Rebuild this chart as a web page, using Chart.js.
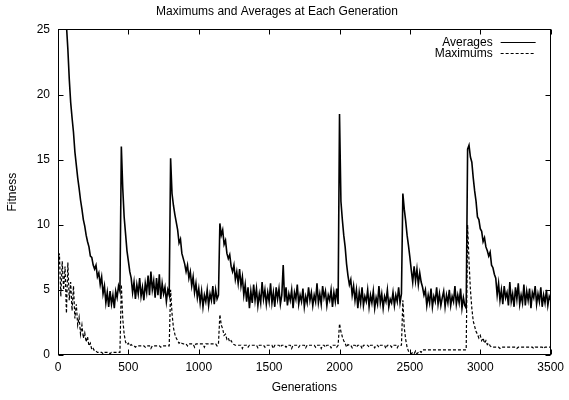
<!DOCTYPE html>
<html>
<head>
  <title>Maximums and Averages at Each Generation</title>
  <style>
    body { margin: 0; background: #fff; }
  </style>
</head>
<body>
<div>
  <canvas id="myChart" width="569" height="400"></canvas>
</div>
<script src="https://cdn.jsdelivr.net/npm/chart.js@4/dist/chart.umd.min.js"></script>

<script>
  // one sample every 10 generations
  const step = 10;

  const averages = [
    38, 35, 32, 30, 28, 26.5, 25.3, 23.5, 21.2, 19.4,
    18.2, 17.1, 15.6, 14.6, 13.6, 12.8, 11.9, 11.2, 10.4, 9.9,
    9.2, 8.7, 8.3, 7.6, 7.5, 6.9, 6.6, 6.9, 6.0, 6.3,
    5.4, 6.0, 4.7, 5.3, 4.0, 4.8, 3.7, 4.9, 3.9, 4.6,
    3.6, 4.9, 4.4, 5.3, 4.9, 16.0, 12.8, 10.6, 9.3, 8.0,
    7.2, 6.4, 5.9, 4.8, 5.6, 4.3, 5.4, 4.7, 5.9, 4.5,
    5.2, 4.2, 5.5, 4.8, 6.1, 4.6, 6.4, 5.0, 5.7, 4.4,
    5.9, 4.6, 6.2, 4.3, 5.5, 4.7, 5.2, 4.1, 5.0, 4.6,
    15.1, 12.4, 11.5, 10.8, 10.2, 9.6, 8.6, 8.9, 7.8, 7.4,
    7.0, 6.4, 6.9, 5.9, 6.4, 5.3, 6.0, 4.8, 5.5, 4.4,
    5.1, 4.0, 4.9, 3.7, 4.6, 4.1, 5.0, 3.8, 4.7, 4.2,
    5.3, 3.9, 5.0, 4.3, 4.6, 10.1, 9.2, 9.6, 8.5, 8.8,
    7.8, 7.4, 7.7, 6.8, 6.4, 6.9, 5.8, 6.4, 5.5, 6.6,
    5.3, 6.0, 4.6, 5.4, 4.1, 5.2, 3.6, 4.9, 4.0, 5.4,
    4.2, 5.1, 3.8, 4.7, 4.0, 5.6, 4.3, 5.0, 3.9, 4.8,
    4.1, 5.5, 4.0, 4.8, 3.7, 5.2, 4.3, 5.1, 3.9, 4.6,
    6.9, 4.1, 5.2, 3.8, 4.7, 4.2, 5.0, 3.6, 4.8, 4.3,
    5.4, 3.9, 4.6, 4.1, 5.1, 3.7, 4.5, 4.0, 5.2, 4.2,
    4.8, 3.8, 4.6, 4.1, 5.5, 4.0, 4.7, 3.9, 5.3, 4.4,
    4.9, 3.8, 4.6, 4.2, 5.0, 3.7, 4.8, 4.1, 5.1, 3.9,
    18.5, 11.8, 10.4, 9.2, 8.3, 7.0, 6.1, 5.4, 5.8, 4.6,
    5.3, 4.2, 5.0, 3.6, 4.8, 4.0, 5.2, 3.8, 4.5, 4.1,
    5.0, 3.7, 4.6, 4.0, 4.9, 3.6, 4.4, 3.9, 5.3, 4.0,
    4.7, 3.6, 4.5, 4.1, 5.0, 3.7, 4.3, 4.0, 4.8, 3.8,
    4.6, 4.1, 5.2, 4.0, 4.7, 12.4, 11.2, 10.3, 9.2, 8.4,
    7.5, 6.5, 5.6, 6.8, 5.7, 6.6, 5.4, 6.3, 5.6, 5.2,
    4.6, 5.0, 3.8, 4.6, 4.0, 5.1, 3.7, 4.5, 4.1, 5.2,
    3.9, 4.7, 3.8, 4.4, 4.9, 3.7, 4.6, 4.0, 5.0, 3.8,
    4.5, 4.1, 5.3, 3.9, 4.6, 4.0, 5.1, 3.6, 4.4, 3.8,
    3.6, 15.8, 16.1, 15.2, 14.8, 13.6, 12.6, 11.8, 10.6, 10.4,
    9.7, 9.5, 8.7, 9.0, 8.3, 8.0, 7.6, 7.9, 6.9, 6.7,
    6.2, 5.9, 4.6, 5.5, 4.2, 5.0, 3.9, 5.3, 4.4, 4.8,
    3.8, 5.6, 4.1, 4.7, 3.7, 5.2, 4.3, 5.5, 3.9, 4.6,
    4.0, 5.4, 3.8, 4.9, 4.2, 5.1, 3.6, 4.8, 4.4, 5.3,
    3.9, 4.7, 4.1, 5.2, 3.7, 4.6, 4.0, 5.0, 3.8, 4.5,
    4.2
  ];

  const maximums = [
    6.5, 7.8, 4.5, 7.2, 5.0, 6.8, 3.2, 7.1, 4.2, 5.6,
    3.4, 5.3, 2.8, 3.9, 2.3, 2.9, 1.6, 2.3, 1.3, 1.7,
    1.0, 1.4, 0.7, 0.9, 0.4, 0.5, 0.3, 0.3, 0.2, 0.2,
    0.2, 0.2, 0.1, 0.2, 0.2, 0.2, 0.2, 0.1, 0.2, 0.2,
    0.2, 0.2, 0.2, 0.2, 0.2, 5.4, 2.8, 1.6, 1.0, 0.8,
    0.9, 0.7, 0.8, 0.7, 0.7, 0.6, 0.7, 0.7, 0.7, 0.7,
    0.7, 0.7, 0.6, 0.7, 0.7, 0.7, 0.5, 0.7, 0.7, 0.7,
    0.7, 0.7, 0.7, 0.6, 0.7, 0.7, 0.7, 0.7, 0.7, 0.7,
    5.0, 3.2, 2.1, 1.6, 1.3, 1.1, 0.9, 1.0, 0.9, 0.85,
    0.85, 0.85, 0.7, 0.85, 0.85, 0.85, 0.85, 0.6, 0.85, 0.85,
    0.85, 0.85, 0.85, 0.85, 0.6, 0.85, 0.85, 0.85, 0.85, 0.85,
    0.85, 0.85, 0.85, 0.7, 0.85, 3.1, 2.3, 2.0, 1.5, 1.6,
    1.2, 1.3, 1.0, 1.1, 0.9, 0.8, 0.75, 0.75, 0.75, 0.75,
    0.75, 0.5, 0.75, 0.75, 0.75, 0.6, 0.75, 0.75, 0.75, 0.75,
    0.75, 0.75, 0.55, 0.75, 0.75, 0.75, 0.75, 0.6, 0.75, 0.75,
    0.75, 0.75, 0.75, 0.5, 0.75, 0.75, 0.75, 0.75, 0.6, 0.75,
    0.75, 0.75, 0.6, 0.75, 0.75, 0.75, 0.5, 0.75, 0.75, 0.75,
    0.75, 0.6, 0.75, 0.75, 0.75, 0.75, 0.55, 0.75, 0.75, 0.75,
    0.75, 0.75, 0.75, 0.6, 0.75, 0.75, 0.75, 0.5, 0.75, 0.75,
    0.6, 0.75, 0.75, 0.75, 0.55, 0.75, 0.75, 0.75, 0.6, 0.75,
    2.4, 1.8, 1.4, 1.1, 0.9, 0.6, 0.8, 0.75, 0.75, 0.55,
    0.75, 0.75, 0.6, 0.75, 0.75, 0.75, 0.5, 0.75, 0.75, 0.75,
    0.75, 0.6, 0.75, 0.75, 0.75, 0.55, 0.75, 0.75, 0.6, 0.75,
    0.75, 0.75, 0.75, 0.5, 0.75, 0.75, 0.75, 0.6, 0.75, 0.75,
    0.75, 0.55, 0.75, 0.75, 0.75, 4.2, 2.1, 1.2, 0.6, 0.3,
    0.2, 0.1, 0.2, 0.1, 0.3, 0.1, 0.2, 0.3, 0.2, 0.4,
    0.4, 0.4, 0.4, 0.4, 0.4, 0.4, 0.4, 0.4, 0.4, 0.4,
    0.4, 0.4, 0.4, 0.4, 0.4, 0.4, 0.4, 0.4, 0.4, 0.4,
    0.4, 0.4, 0.4, 0.4, 0.4, 0.4, 0.4, 0.4, 0.4, 0.4,
    0.4, 10.0, 7.2, 5.0, 3.6, 2.6, 2.2, 1.8, 1.6, 1.3,
    1.5, 1.1, 1.3, 0.9, 1.1, 0.8, 0.9, 0.7, 0.6, 0.6,
    0.6, 0.6, 0.6, 0.6, 0.5, 0.6, 0.6, 0.6, 0.6, 0.6,
    0.6, 0.6, 0.6, 0.6, 0.6, 0.6, 0.5, 0.6, 0.6, 0.6,
    0.6, 0.6, 0.6, 0.6, 0.6, 0.6, 0.6, 0.6, 0.5, 0.6,
    0.6, 0.6, 0.6, 0.6, 0.6, 0.5, 0.6, 0.6, 0.6, 0.6,
    0.6
  ];

  const xTicks = [0, 500, 1000, 1500, 2000, 2500, 3000, 3500];
  const yTicks = [0, 5, 10, 15, 20, 25];

  const FONT = '"Liberation Sans", Arial, Helvetica, sans-serif';

  const toPoints = values => values.map((v, i) => ({ x: i * step, y: v }));

  // gnuplot style frame: border all round, ticks pointing inwards on every side
  const framePlugin = {
    id: 'frame',
    afterDraw(chart) {
      const ctx = chart.ctx;
      const a = chart.chartArea;
      const xs = chart.scales.x;
      const ys = chart.scales.y;
      const len = 5;
      ctx.save();
      ctx.strokeStyle = '#000';
      ctx.lineWidth = 1;
      ctx.setLineDash([]);
      const l = Math.round(a.left) + 0.5, r = Math.round(a.right) - 0.5;
      const t = Math.round(a.top) + 0.5, b = Math.round(a.bottom) - 0.5;
      ctx.strokeRect(l, t, r - l, b - t);
      ctx.beginPath();
      xTicks.forEach(v => {
        const px = Math.round(xs.getPixelForValue(v)) + 0.5;
        ctx.moveTo(px, b); ctx.lineTo(px, b - len);
        ctx.moveTo(px, t); ctx.lineTo(px, t + len);
      });
      yTicks.forEach(v => {
        const py = Math.round(ys.getPixelForValue(v)) + 0.5;
        ctx.moveTo(l, py); ctx.lineTo(l + len, py);
        ctx.moveTo(r, py); ctx.lineTo(r - len, py);
      });
      ctx.stroke();

      // key, inside the top right corner
      ctx.font = '12px ' + FONT;
      ctx.fillStyle = '#000';
      ctx.textAlign = 'right';
      ctx.textBaseline = 'middle';
      chart.data.datasets.forEach((ds, i) => {
        const y = Math.round(a.top + 12.5 + i * 11) + 0.5;
        ctx.fillText(ds.label, a.right - 58, y);
        ctx.lineWidth = 1;
        ctx.setLineDash(ds.borderDash || []);
        ctx.beginPath();
        ctx.moveTo(a.right - 50, y);
        ctx.lineTo(a.right - 15, y);
        ctx.stroke();
      });
      ctx.restore();
    }
  };

  new Chart(document.getElementById('myChart').getContext('2d'), {
    type: 'line',
    data: {
      datasets: [{
        label: 'Averages',
        data: toPoints(averages),
        borderColor: '#000',
        borderWidth: 1.6,
        pointRadius: 0,
        tension: 0,
        fill: false
      }, {
        label: 'Maximums',
        data: toPoints(maximums),
        borderColor: '#000',
        borderWidth: 1.2,
        borderDash: [3, 2],
        pointRadius: 0,
        tension: 0,
        fill: false
      }]
    },
    options: {
      responsive: false,
      animation: false,
      layout: { padding: { left: 0, right: 15, top: 0, bottom: 0 } },
      plugins: {
        legend: { display: false },
        tooltip: { enabled: false },
        title: {
          display: true,
          text: 'Maximums and Averages at Each Generation',
          color: '#000',
          font: { family: FONT, size: 12, weight: 'normal' },
          padding: { top: 4, bottom: 11 }
        }
      },
      scales: {
        x: {
          type: 'linear',
          min: 0,
          max: 3500,
          grid: { display: false, drawTicks: false, tickLength: 0 },
          border: { display: false },
          ticks: {
            stepSize: 500,
            color: '#000',
            padding: 5,
            maxRotation: 0,
            font: { family: FONT, size: 12 },
            callback: v => String(v)
          },
          title: {
            display: true,
            text: 'Generations',
            color: '#000',
            font: { family: FONT, size: 12 },
            padding: { top: 5, bottom: 5 }
          },
          afterFit: s => { s.height = 45; }
        },
        y: {
          min: 0,
          max: 25,
          grid: { display: false, drawTicks: false, tickLength: 0 },
          border: { display: false },
          ticks: {
            stepSize: 5,
            color: '#000',
            padding: 8,
            font: { family: FONT, size: 12 },
            callback: v => String(v)
          },
          title: {
            display: true,
            text: 'Fitness',
            color: '#000',
            font: { family: FONT, size: 12 },
            padding: { top: 5, bottom: 5 }
          },
          afterFit: s => { s.width = 58; }
        }
      }
    },
    plugins: [framePlugin]
  });
</script>
</body>
</html>
